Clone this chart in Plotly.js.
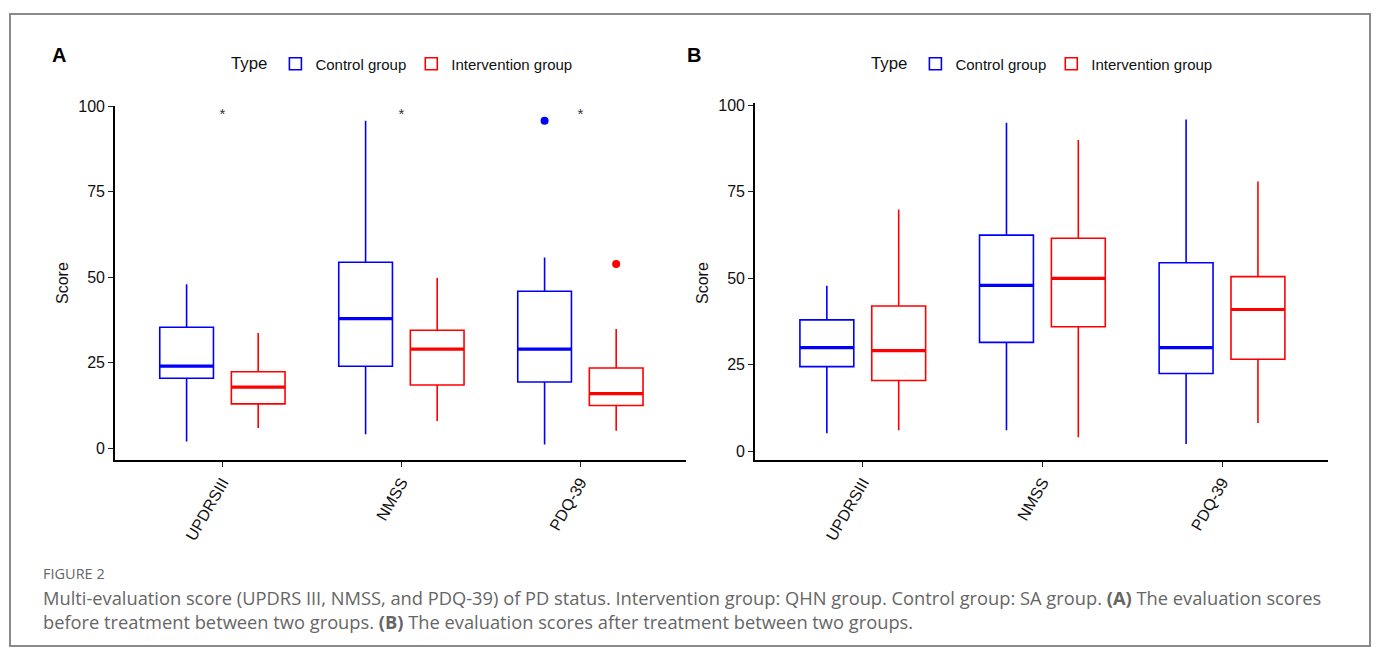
<!DOCTYPE html>
<html>
<head>
<meta charset="utf-8">
<script src="https://cdn.plot.ly/plotly-3.0.1.min.js"></script>
<style>html,body{margin:0;padding:0;background:#fff;}#chart{width:1378px;height:650px;}</style>
</head>
<body>
<div id="chart"></div>
<script>
// ---------- data ----------
const categories = ['UPDRSIII', 'NMSS', 'PDQ-39'];
const groups = ['Control group', 'Intervention group'];

// Panel A (before treatment)
const aCtrlLow  = [2.0, 4.1, 1.1];
const aCtrlQ1   = [20.5, 24.0, 19.4];
const aCtrlMed  = [24.0, 37.9, 29.0];
const aCtrlQ3   = [35.4, 54.4, 45.9];
const aCtrlHigh = [48.0, 95.8, 55.8];

const aIntLow  = [5.9, 8.0, 5.1];
const aIntQ1   = [13.0, 18.5, 12.5];
const aIntMed  = [17.9, 29.0, 16.0];
const aIntQ3   = [22.4, 34.5, 23.5];
const aIntHigh = [33.7, 49.8, 34.9];

const aCtrlOutCat = ['PDQ-39'];
const aCtrlOutVal = [95.8];
const aIntOutCat  = ['PDQ-39'];
const aIntOutVal  = [53.9];

const aSigLabels = ['*', '*', '*'];
const aSigY      = [97.4, 97.4, 97.4];

// Panel B (after treatment)
const bCtrlLow  = [5.1, 6.0, 2.0];
const bCtrlQ1   = [24.4, 31.4, 22.4];
const bCtrlMed  = [29.9, 47.9, 29.9];
const bCtrlQ3   = [37.9, 62.4, 54.4];
const bCtrlHigh = [47.8, 94.9, 95.8];

const bIntLow  = [6.0, 4.0, 8.1];
const bIntQ1   = [20.4, 35.9, 26.5];
const bIntMed  = [29.0, 49.9, 40.9];
const bIntQ3   = [41.9, 61.5, 50.4];
const bIntHigh = [69.8, 89.9, 77.9];

const yTickVals = [0, 25, 50, 75, 100];

// ---------- styling ----------
const W = 1378, H = 650;
const colors = ['#0000FF', '#FF0000'];
const dodge = [-0.2, 0.2];
const boxW = 0.3;
const px = v => v / W;
const py = v => 1 - v / H;
const catPos = (cats, off) => cats.map(c => categories.indexOf(c) + off);

function boxTraces(xa, ya, gi, low, q1, med, q3, high, legendId) {
  const xs = categories.map((c, i) => i + dodge[gi]);
  const main = {
    type: 'box', xaxis: xa, yaxis: ya, name: groups[gi], legend: legendId,
    legendgroup: groups[gi] + legendId,
    x: xs, q1: q1, median: med, q3: q3, lowerfence: low, upperfence: high,
    width: boxW, whiskerwidth: 0, boxpoints: false,
    line: {color: colors[gi], width: 1.6}, fillcolor: 'rgba(255,255,255,0)',
    hoverinfo: 'y'
  };
  const medLine = {
    type: 'box', xaxis: xa, yaxis: ya, name: groups[gi], legend: legendId,
    legendgroup: groups[gi] + legendId, showlegend: false,
    x: xs, q1: med, median: med, q3: med, lowerfence: med, upperfence: med,
    width: boxW, whiskerwidth: 0, boxpoints: false,
    line: {color: colors[gi], width: 3.2}, fillcolor: 'rgba(255,255,255,0)',
    hoverinfo: 'skip'
  };
  return [main, medLine];
}

function outlierTrace(xa, ya, gi, cats, vals, legendId) {
  return {
    type: 'scatter', mode: 'markers', xaxis: xa, yaxis: ya, legend: legendId,
    showlegend: false, x: catPos(cats, dodge[gi]), y: vals,
    marker: {color: colors[gi], size: 8}, hoverinfo: 'y'
  };
}

const data = [
  ...boxTraces('x', 'y', 0, aCtrlLow, aCtrlQ1, aCtrlMed, aCtrlQ3, aCtrlHigh, 'legend'),
  ...boxTraces('x', 'y', 1, aIntLow, aIntQ1, aIntMed, aIntQ3, aIntHigh, 'legend'),
  outlierTrace('x', 'y', 0, aCtrlOutCat, aCtrlOutVal, 'legend'),
  outlierTrace('x', 'y', 1, aIntOutCat, aIntOutVal, 'legend'),
  {
    type: 'scatter', mode: 'text', xaxis: 'x', yaxis: 'y', showlegend: false,
    x: categories.map((c, i) => i), y: aSigY, text: aSigLabels,
    textfont: {family: 'Liberation Sans, Arial, sans-serif', size: 15, color: '#333'},
    hoverinfo: 'skip'
  },
  ...boxTraces('x2', 'y2', 0, bCtrlLow, bCtrlQ1, bCtrlMed, bCtrlQ3, bCtrlHigh, 'legend2'),
  ...boxTraces('x2', 'y2', 1, bIntLow, bIntQ1, bIntMed, bIntQ3, bIntHigh, 'legend2')
];

const tickFont = {family: 'Liberation Sans, Arial, sans-serif', size: 16, color: '#111'};
function xAxis(d0, d1, anchor) {
  return {
    domain: [px(d0), px(d1)], anchor: anchor, range: [-0.6, 2.59],
    tickvals: categories.map((c, i) => i), ticktext: categories, tickangle: -60,
    showline: true, linecolor: '#000', linewidth: 1.6, ticks: 'outside', ticklen: 5,
    tickwidth: 1.3, tickcolor: '#222', showgrid: false, zeroline: false,
    tickfont: tickFont, fixedrange: true
  };
}
function yAxis(top, bottom, range, anchor) {
  return {
    domain: [py(bottom), py(top)], anchor: anchor, range: range,
    tickvals: yTickVals, showline: true, linecolor: '#000', linewidth: 1.6,
    ticks: 'outside', ticklen: 5, tickwidth: 1.3, tickcolor: '#222',
    showgrid: false, zeroline: false, tickfont: tickFont, fixedrange: true
  };
}

const legendCommon = {
  orientation: 'h', yanchor: 'middle', xanchor: 'left',
  font: {family: 'Liberation Sans, Arial, sans-serif', size: 15, color: '#111'},
  bgcolor: 'rgba(0,0,0,0)', itemwidth: 30, tracegroupgap: 0
};
const legendTitle = {text: 'Type', side: 'left', font: {family: 'Liberation Sans, Arial, sans-serif', size: 16.8, color: '#111'}};

const capFont = {family: 'Open Sans, Noto Sans, sans-serif', size: 18.3, color: '#666'};

const layout = {
  width: W, height: H,
  margin: {l: 0, r: 0, t: 0, b: 0},
  paper_bgcolor: '#fff', plot_bgcolor: '#fff',
  showlegend: true, boxmode: 'overlay',
  xaxis: xAxis(115, 686, 'y'),
  yaxis: yAxis(105.6, 460, [-3.42, 100.2], 'x'),
  xaxis2: xAxis(755, 1328, 'y2'),
  yaxis2: yAxis(103.3, 460, [-2.6, 100.5], 'x2'),
  legend: Object.assign({}, legendCommon, {x: px(229), y: py(64), title: legendTitle}),
  legend2: Object.assign({}, legendCommon, {x: px(869), y: py(64), title: legendTitle}),
  shapes: [{
    type: 'rect', xref: 'paper', yref: 'paper', x0: px(10), x1: px(1370), y0: py(646), y1: py(14),
    line: {color: '#8a8a8a', width: 2}, fillcolor: 'rgba(0,0,0,0)', layer: 'below'
  }],
  annotations: [
    {text: '<b>A</b>', xref: 'paper', yref: 'paper', x: px(50), y: py(55), xanchor: 'left', yanchor: 'middle',
     showarrow: false, font: {family: 'Liberation Sans, Arial, sans-serif', size: 20, color: '#000'}},
    {text: '<b>B</b>', xref: 'paper', yref: 'paper', x: px(685), y: py(55), xanchor: 'left', yanchor: 'middle',
     showarrow: false, font: {family: 'Liberation Sans, Arial, sans-serif', size: 20, color: '#000'}},
    {text: 'Score', xref: 'paper', yref: 'paper', x: px(62), y: py(283), textangle: -90, xanchor: 'center', yanchor: 'middle',
     showarrow: false, font: {family: 'Liberation Sans, Arial, sans-serif', size: 16, color: '#111'}},
    {text: 'Score', xref: 'paper', yref: 'paper', x: px(702), y: py(283), textangle: -90, xanchor: 'center', yanchor: 'middle',
     showarrow: false, font: {family: 'Liberation Sans, Arial, sans-serif', size: 16, color: '#111'}},
    {text: 'FIGURE 2', xref: 'paper', yref: 'paper', x: px(41), y: py(573), xanchor: 'left', yanchor: 'middle',
     showarrow: false, font: {family: 'Open Sans, Noto Sans, sans-serif', size: 14.5, color: '#666'}},
    {text: 'Multi-evaluation score (UPDRS III, NMSS, and PDQ-39) of PD status. Intervention group: QHN group. Control group: SA group. <b>(A)</b> The evaluation scores',
     xref: 'paper', yref: 'paper', x: px(41), y: py(597), xanchor: 'left', yanchor: 'middle', showarrow: false, font: capFont},
    {text: 'before treatment between two groups. <b>(B)</b> The evaluation scores after treatment between two groups.',
     xref: 'paper', yref: 'paper', x: px(41), y: py(621), xanchor: 'left', yanchor: 'middle', showarrow: false, font: capFont}
  ]
};

Plotly.newPlot('chart', data, layout, {displayModeBar: false, staticPlot: false});
</script>
</body>
</html>
